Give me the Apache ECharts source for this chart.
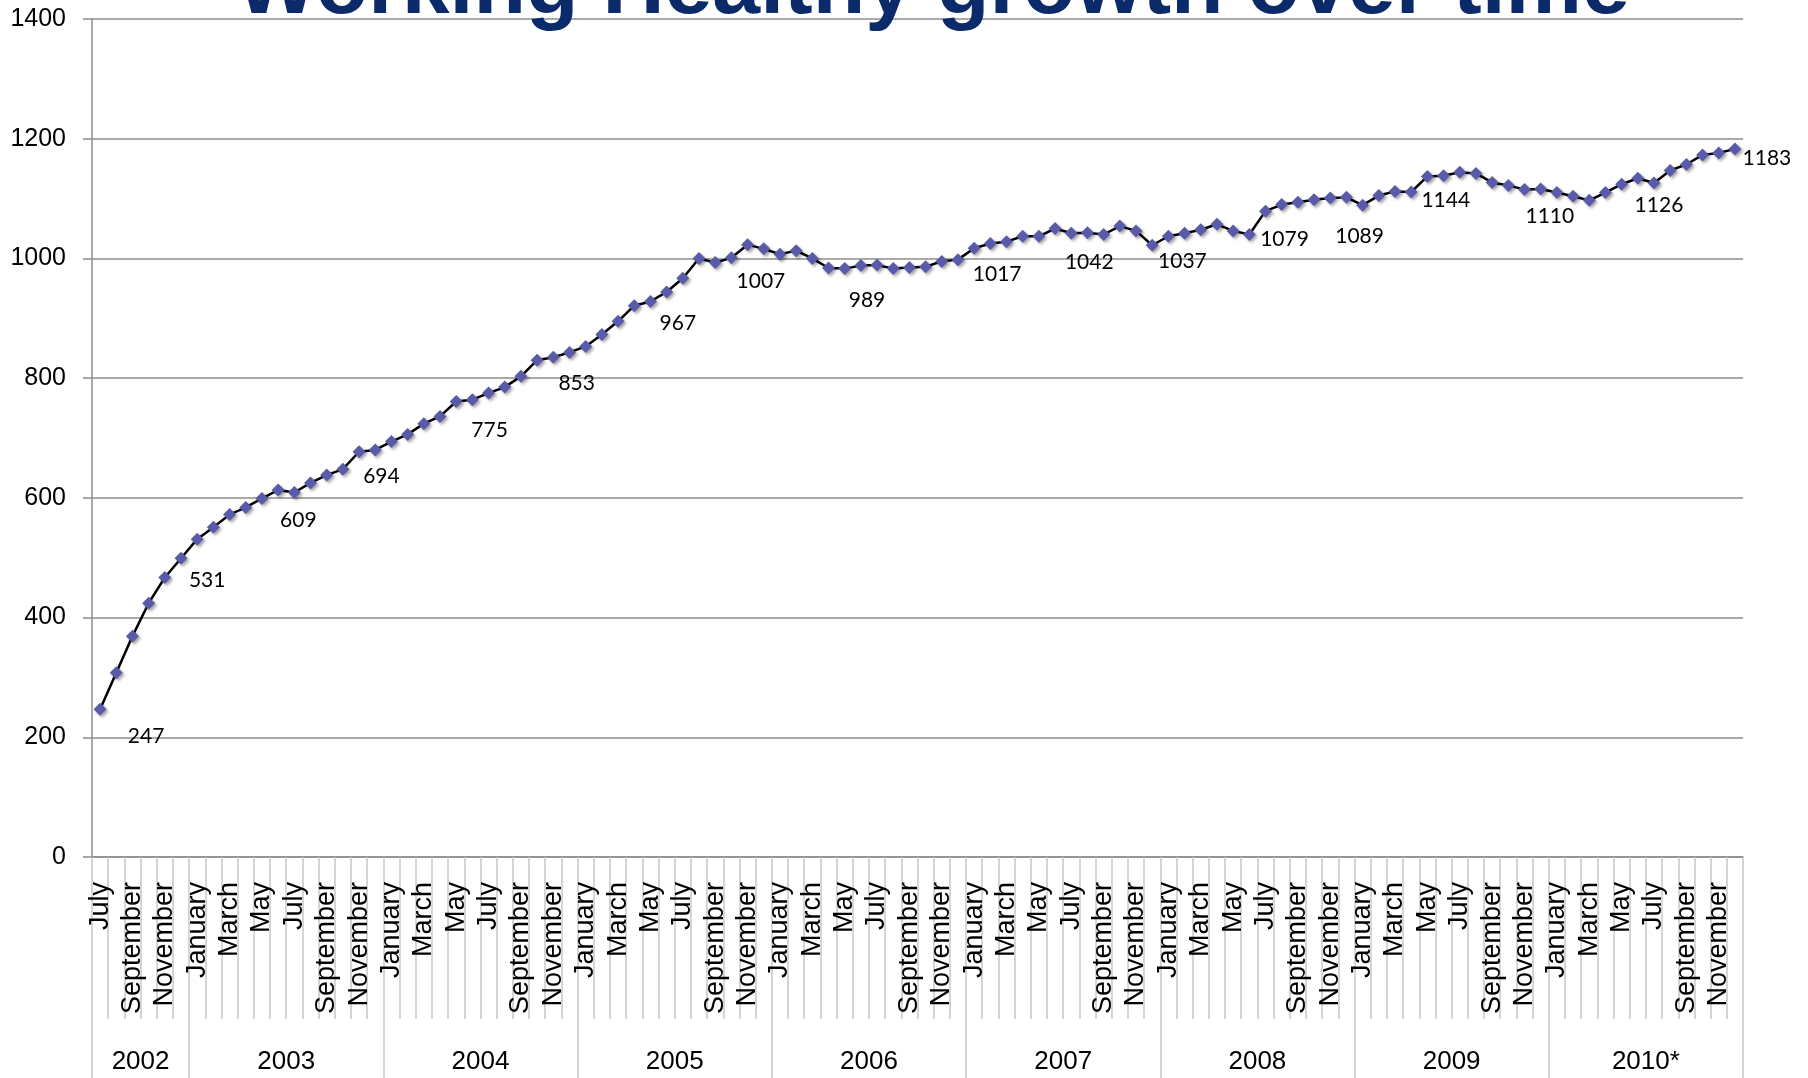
<!DOCTYPE html>
<html>
<head>
<meta charset="utf-8">
<script src="https://cdn.jsdelivr.net/npm/echarts@6/dist/echarts.min.js"></script>
<style>
  html, body { margin: 0; padding: 0; background: #fff; }
  #main { width: 1808px; height: 1078px; }
</style>
</head>
<body>
<div id="main"></div>
<script>
// monthly totals, July 2002 .. December 2010
var monthNames = ['January', 'February', 'March', 'April', 'May', 'June',
  'July', 'August', 'September', 'October', 'November', 'December'];
var years = ['2002', '2003', '2004', '2005', '2006', '2007', '2008', '2009', '2010*'];
var yearStarts = [0, 6, 18, 30, 42, 54, 66, 78, 90, 102];

var values = [
  247, 308, 369, 424, 467, 499,
  531, 551, 572, 584, 599, 613, 609, 625, 638, 648, 677, 680,
  694, 706, 724, 736, 761, 764, 775, 785, 803, 830, 835, 843,
  853, 873, 895, 921, 928, 944, 967, 1000, 993, 1001, 1023, 1016,
  1007, 1013, 1000, 984, 983, 988, 989, 983, 985, 986, 995, 998,
  1017, 1025, 1028, 1037, 1037, 1050, 1042, 1043, 1040, 1054, 1046, 1022,
  1037, 1042, 1048, 1057, 1046, 1040, 1079, 1090, 1094, 1098, 1101, 1102,
  1089, 1105, 1112, 1111, 1137, 1138, 1144, 1142, 1127, 1122, 1115, 1116,
  1110, 1104, 1097, 1110, 1124, 1134, 1126, 1147, 1157, 1173, 1176, 1183
];

// which points carry a value label
var labelIdx = [0, 6, 12, 18, 24, 30, 36, 42, 48, 54, 60, 66, 72, 78, 84, 90, 96, 101];
// label placement relative to the marker (style only)
var labelOffsets = [
  [46, 27], [10, 41], [4, 28], [-10, 35], [1, 37], [-9, 37], [-5, 45], [-19, 27], [-10, 35],
  [23, 26], [18, 29], [14, 25], [19, 28], [-3, 31], [-14, 28], [-7, 24], [5, 22], [32, 9]
];

var months = [];
for (var i = 0; i < values.length; i++) {
  months.push(monthNames[(i + 6) % 12]);
}

var seriesData = values.map(function (v, i) {
  var k = labelIdx.indexOf(i);
  if (k < 0) return v;
  return { value: v, label: { show: true, offset: labelOffsets[k] } };
});

var yearMid = [];
for (var j = 0; j < years.length; j++) {
  yearMid.push((yearStarts[j] + yearStarts[j + 1]) / 2);
}

var chart = echarts.init(document.getElementById('main'));
var axisFont = '"Liberation Sans", Arial, sans-serif';

chart.setOption({
  animation: false,
  backgroundColor: '#fff',
  graphic: [{
    type: 'text',
    x: 933,
    y: -11,
    z: 100,
    style: {
      text: 'Working Healthy growth over time',
      font: 'bold 86px "Liberation Sans", Arial, sans-serif',
      fill: '#0a2a6a',
      align: 'center',
      verticalAlign: 'middle'
    }
  }],
  grid: { left: 92, right: 65, top: 19, bottom: 221, containLabel: false },
  xAxis: [{
    type: 'category',
    data: months,
    boundaryGap: true,
    axisLine: { show: true, lineStyle: { color: '#8c8c8c', width: 1.5 } },
    axisTick: { show: true, interval: 0, length: 162, lineStyle: { color: '#c8c8c8', width: 1.5 } },
    axisLabel: {
      interval: 1,
      rotate: 90,
      margin: 25,
      fontSize: 27,
      fontFamily: axisFont,
      color: '#000'
    },
    splitLine: { show: false }
  }, {
    type: 'value',
    position: 'bottom',
    min: 0,
    max: 102,
    axisLine: { show: false },
    axisTick: {
      show: true,
      customValues: yearStarts,
      length: 222,
      lineStyle: { color: '#c8c8c8', width: 1.5 }
    },
    axisLabel: {
      customValues: yearMid,
      margin: 192,
      fontSize: 26,
      fontFamily: axisFont,
      color: '#000',
      formatter: function (v) {
        var k = yearMid.indexOf(v);
        return k >= 0 ? years[k] : '';
      }
    },
    splitLine: { show: false }
  }],
  yAxis: {
    type: 'value',
    min: 0,
    max: 1400,
    interval: 200,
    axisLine: { show: true, lineStyle: { color: '#8c8c8c', width: 1.5 } },
    axisTick: { show: true, length: 9, lineStyle: { color: '#8c8c8c', width: 1.5 } },
    axisLabel: {
      margin: 26,
      fontSize: 25,
      fontFamily: axisFont,
      color: '#000',
      formatter: function (v) { return String(v); }
    },
    splitLine: { show: true, lineStyle: { color: '#8c8c8c', width: 1.5 } }
  },
  series: [{
    type: 'line',
    xAxisIndex: 0,
    data: seriesData,
    symbol: 'diamond',
    symbolSize: 13,
    showAllSymbol: true,
    lineStyle: { color: '#000', width: 2.5 },
    itemStyle: {
      color: '#5a5ba8',
      borderWidth: 0,
      shadowColor: 'rgba(0,0,0,0.35)',
      shadowBlur: 3,
      shadowOffsetX: 2,
      shadowOffsetY: 2
    },
    label: {
      show: false,
      position: 'inside',
      fontSize: 21,
      fontFamily: 'Lato, "Open Sans", sans-serif',
      color: '#000'
    },
    emphasis: { disabled: true }
  }]
});
</script>
</body>
</html>
